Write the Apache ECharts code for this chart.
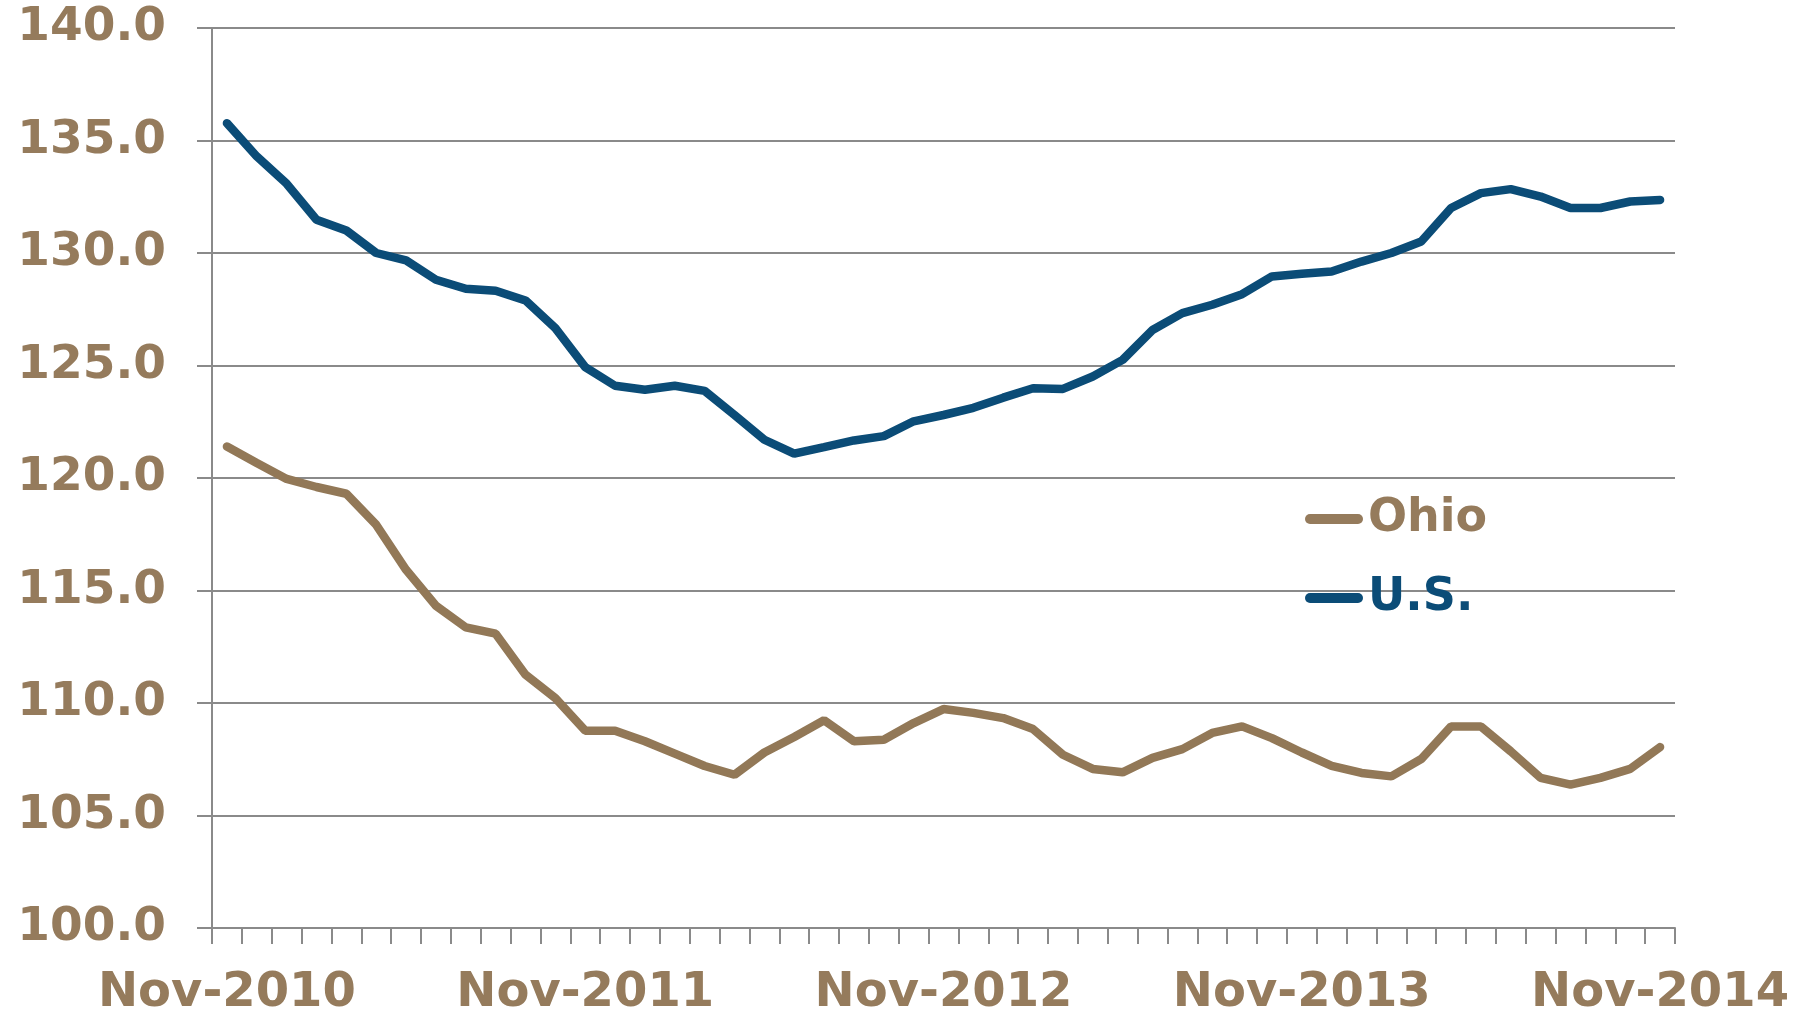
<!DOCTYPE html>
<html>
<head>
<meta charset="utf-8">
<script src="https://cdn.jsdelivr.net/npm/echarts@6/dist/echarts.min.js"></script>
<style>
  html, body { margin: 0; padding: 0; background: #fff; }
  #chart { width: 1810px; height: 1014px; }
</style>
</head>
<body>
<div id="chart"></div>
<script>
// monthly, Nov-2010 .. Nov-2014
var months = ['Jan','Feb','Mar','Apr','May','Jun','Jul','Aug','Sep','Oct','Nov','Dec'];
var categories = [];
for (var y = 2010; y <= 2014; y++) {
    for (var m = 0; m < 12; m++) {
        if ((y === 2010 && m < 10) || (y === 2014 && m > 10)) continue;
        categories.push(months[m] + '-' + y);
    }
}

var ohio = [121.4, 120.67, 119.96, 119.6, 119.3, 117.92, 115.92, 114.32, 113.36, 113.08,
    111.26, 110.22, 108.77, 108.77, 108.3, 107.75, 107.2, 106.81, 107.8, 108.49,
    109.23, 108.3, 108.37, 109.11, 109.73, 109.56, 109.33, 108.84, 107.7, 107.07,
    106.92, 107.56, 107.95, 108.67, 108.96, 108.44, 107.8, 107.21, 106.89, 106.74,
    107.51, 108.96, 108.96, 107.85, 106.67, 106.37, 106.67, 107.07, 108.04];

var us = [135.77, 134.29, 133.08, 131.48, 131.0, 130.0, 129.67, 128.81, 128.41, 128.32,
    127.89, 126.66, 124.93, 124.1, 123.92, 124.1, 123.87, 122.8, 121.7, 121.08,
    121.37, 121.67, 121.86, 122.52, 122.8, 123.12, 123.57, 123.99, 123.96, 124.51,
    125.25, 126.58, 127.33, 127.7, 128.17, 128.96, 129.08, 129.18, 129.62, 130.0,
    130.51, 132.0, 132.66, 132.84, 132.51, 132.0, 132.0, 132.29, 132.36];

var tan = '#957b5c';
var navy = '#0b4c77';
var gray = '#8a8a8a';
var capsule = 'path://M5,0 L53,0 A5,5 0 0 1 53,10 L5,10 A5,5 0 0 1 5,0 Z';

var chart = echarts.init(document.getElementById('chart'), null, {renderer: 'canvas'});

chart.setOption({
    animation: false,
    grid: {
        left: 212,
        right: 135,
        top: 28,
        bottom: 86,
        containLabel: false,
        outerBoundsMode: 'none'
    },
    legend: {
        orient: 'vertical',
        left: 1305,
        top: 496,
        padding: 0,
        itemGap: 33,
        itemWidth: 58,
        itemHeight: 10,
        icon: capsule,
        textStyle: {
            fontFamily: 'DejaVu Sans',
            fontWeight: 'bold',
            fontSize: 46
        },
        data: [
            {name: 'Ohio', textStyle: {color: tan}},
            {name: 'U.S.', textStyle: {color: navy}}
        ]
    },
    xAxis: {
        type: 'category',
        data: categories,
        boundaryGap: true,
        axisLine: {lineStyle: {color: gray, width: 2}},
        axisTick: {
            show: true,
            interval: 0,
            length: 16,
            lineStyle: {color: gray, width: 2}
        },
        axisLabel: {
            interval: 11,
            margin: 42,
            color: tan,
            fontFamily: 'DejaVu Sans',
            fontWeight: 'bold',
            fontSize: 48
        },
        splitLine: {show: false}
    },
    yAxis: {
        type: 'value',
        min: 100,
        max: 140,
        interval: 5,
        axisLine: {show: true, lineStyle: {color: gray, width: 2}},
        axisTick: {show: true, length: 15, lineStyle: {color: gray, width: 2}},
        axisLabel: {
            margin: 46,
            color: tan,
            fontFamily: 'DejaVu Sans',
            fontWeight: 'bold',
            fontSize: 47,
            formatter: function (v) { return v.toFixed(1); }
        },
        splitLine: {lineStyle: {color: gray, width: 2}}
    },
    series: [
        {
            name: 'Ohio',
            type: 'line',
            data: ohio,
            showSymbol: false,
            symbol: 'none',
            color: tan,
            lineStyle: {width: 8.5, color: '#927857', cap: 'round'}
        },
        {
            name: 'U.S.',
            type: 'line',
            data: us,
            showSymbol: false,
            symbol: 'none',
            color: navy,
            lineStyle: {width: 8.5, color: navy, cap: 'round'}
        }
    ]
});
</script>
</body>
</html>
